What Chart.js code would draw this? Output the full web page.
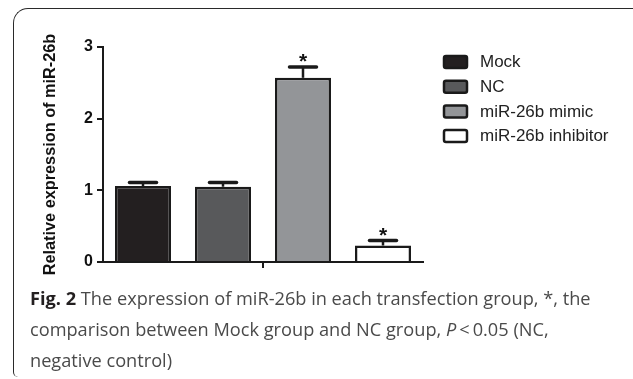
<!DOCTYPE html>
<html>
<head>
<meta charset="utf-8">
<script src="https://cdn.jsdelivr.net/npm/chart.js@4/dist/chart.umd.min.js"></script>
<style>
  body { margin: 0; background: #fff; }
  #wrap { position: relative; width: 633px; height: 379px; overflow: hidden; }
  #frame {
    position: absolute; left: 13px; top: 8px; width: 640px; height: 368px;
    border-top: 1.6px solid #2a2a2a; border-left: 1.6px solid #2a2a2a;
    border-top-left-radius: 15px; border-bottom-left-radius: 5px;
  }
  #chartBox { position: absolute; left: 0; top: 0; width: 633px; height: 285px; }
  #caption {
    position: absolute; left: 30px; top: 283px; width: 603px;
    font-family: "Open Sans", sans-serif; font-size: 18.2px; line-height: 31px; color: #4a4a4a;
    white-space: nowrap;
  }
  #caption b { color: #231f20; }
</style>
</head>
<body>
<div id="wrap">
  <div id="frame"></div>
  <div id="chartBox"><canvas id="expressionChart" width="633" height="285"></canvas></div>
  <div id="caption"><b>Fig. 2</b> The expression of miR-26b in each transfection group, *, the<br>comparison between Mock group and NC group, <i>P</i>&thinsp;&lt;&thinsp;0.05 (NC,<br>negative control)</div>
</div>
<script>
// groups and their relative expression (mean, SEM)
const groups = ["Mock", "NC", "miR-26b mimic", "miR-26b inhibitor"];
const means = [1.06, 1.05, 2.57, 0.23];
const errors = [0.05, 0.06, 0.15, 0.07];
const significant = [false, false, true, true];
const yTicks = [0, 1, 2, 3];

const fills = ["#231f20", "#58595b", "#939598", "#ffffff"];
const edge = "#1a1a1a";
const sans = "'Liberation Sans', Arial, sans-serif";

const datasets = groups.map((g, i) => ({
    label: g,
    data: [means[i]],
    backgroundColor: fills[i],
    borderColor: edge,
    borderWidth: 2.5,
    borderSkipped: "start",
    barPercentage: 0.7,
    categoryPercentage: 1.0,
}));

// error bars + asterisks on top of each bar
const errorBars = {
    id: "errorBars",
    afterDatasetsDraw(chart) {
        const ctx = chart.ctx;
        const y = chart.scales.y;
        ctx.save();
        ctx.strokeStyle = edge;
        ctx.fillStyle = "#111";
        chart.data.datasets.forEach((ds, i) => {
            const bar = chart.getDatasetMeta(i).data[0];
            const top = y.getPixelForValue(means[i] + errors[i]);
            ctx.lineWidth = 2.5;
            ctx.lineCap = "butt";
            ctx.beginPath();
            ctx.moveTo(bar.x, bar.y);
            ctx.lineTo(bar.x, top);
            ctx.stroke();
            ctx.lineWidth = 3.5;
            ctx.lineCap = "round";
            ctx.beginPath();
            ctx.moveTo(bar.x - 13.5, top);
            ctx.lineTo(bar.x + 13.5, top);
            ctx.stroke();
            if (significant[i]) {
                ctx.font = "bold 21px " + sans;
                ctx.textAlign = "center";
                ctx.textBaseline = "alphabetic";
                ctx.fillText("*", bar.x, top + 1);
            }
        });
        ctx.restore();
    },
};

// legend drawn at the right, GraphPad style
const sideLegend = {
    id: "sideLegend",
    afterDraw(chart) {
        const ctx = chart.ctx;
        ctx.save();
        chart.data.datasets.forEach((ds, i) => {
            const yy = 55 + i * 24.7;
            ctx.fillStyle = ds.backgroundColor;
            ctx.strokeStyle = edge;
            ctx.lineWidth = 2.5;
            ctx.beginPath();
            ctx.roundRect(444, yy + 1, 23, 12, 2);
            ctx.fill();
            ctx.stroke();
            ctx.fillStyle = "#222";
            ctx.font = "17px " + sans;
            ctx.textBaseline = "middle";
            ctx.textAlign = "left";
            ctx.fillText(ds.label, 480, yy + 7.5);
        });
        ctx.restore();
    },
};

const ctx = document.getElementById("expressionChart").getContext("2d");
new Chart(ctx, {
    type: "bar",
    data: { labels: [""], datasets: datasets },
    plugins: [errorBars, sideLegend],
    options: {
        responsive: false,
        animation: false,
        layout: { padding: { left: 41, top: 47, right: 210, bottom: 0 } },
        plugins: { legend: { display: false }, tooltip: { enabled: false } },
        scales: {
            x: {
                grid: { display: true, offset: false, drawOnChartArea: false, drawTicks: true, tickLength: 6, color: edge, lineWidth: 2 },
                border: { display: true, color: edge, width: 2 },
                ticks: { display: false },
                afterFit(scale) { scale.height = 23; },
            },
            y: {
                min: 0,
                max: 3,
                afterBuildTicks(scale) { scale.ticks = yTicks.map(v => ({ value: v })); },
                grid: { drawOnChartArea: false, drawTicks: true, tickLength: 6, color: edge, lineWidth: 2 },
                border: { display: true, color: edge, width: 2 },
                ticks: {
                    padding: 4,
                    color: "#111",
                    font: { family: sans, size: 16, weight: "bold" },
                },
                title: {
                    display: true,
                    text: "Relative expression of miR-26b",
                    color: "#111",
                    padding: 0,
                    font: { family: sans, size: 16.3, weight: "bold" },
                },
                afterFit(scale) { scale.width = 62; },
            },
        },
    },
});
</script>
</body>
</html>
